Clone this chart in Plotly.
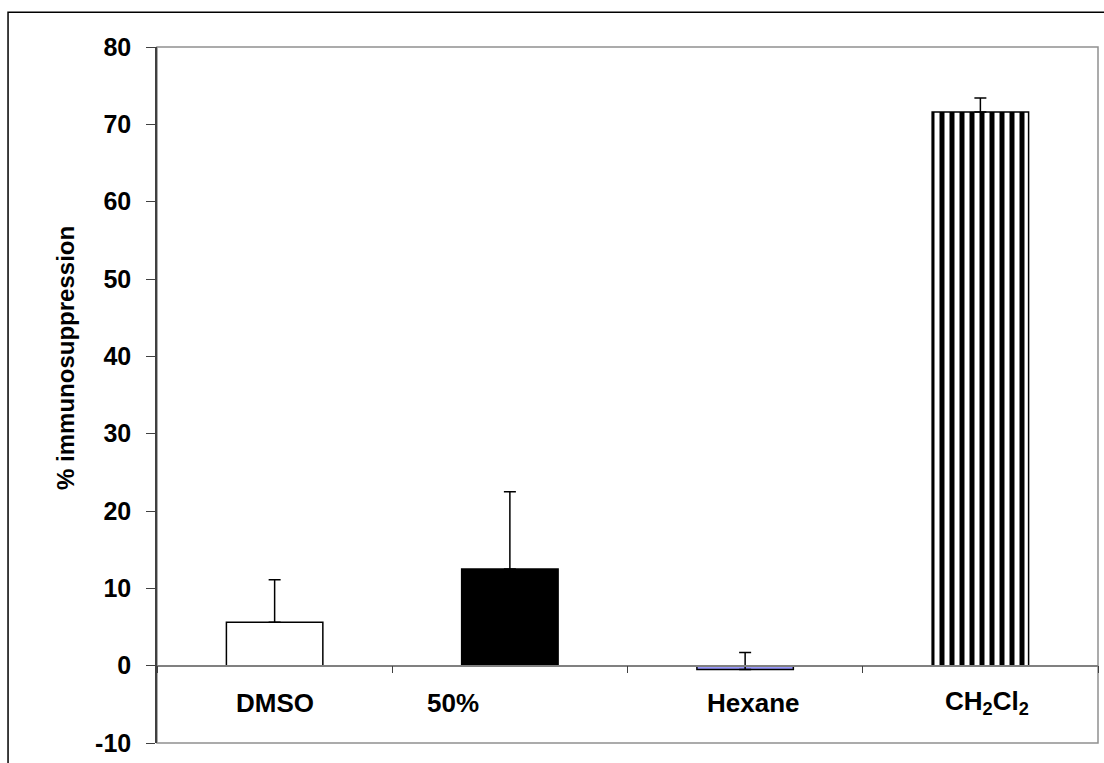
import plotly.graph_objects as go

# Extract treatments and their mean % immunosuppression with +SD
categories = ["DMSO", "50%", "Hexane", "CH2Cl2"]
tick_labels = ["DMSO", "50%", "Hexane", "CH<sub>2</sub>Cl<sub>2</sub>"]
means = [5.6, 12.5, -0.5, 71.6]
errors_plus = [5.5, 10.0, 2.2, 1.8]
label_shift = [0, -57, 8, 7]

y_tickvals = [-10, 0, 10, 20, 30, 40, 50, 60, 70, 80]
y_ticktext = ["-10", "0", "10", "20", "30", "40", "50", "60", "70", "80"]

fills = ["white", "black", "#9999FF", "white"]
striped = [False, False, False, True]

FONT = "Liberation Sans, Arial, sans-serif"

fig = go.Figure()
for cat, m, e, fc, s in zip(categories, means, errors_plus, fills, striped):
    marker = dict(color=fc, line=dict(color="black", width=1.5))
    if s:
        marker["pattern"] = dict(shape="|", fgcolor="black", bgcolor="white",
                                 fgopacity=1, size=10, solidity=0.5)
    fig.add_trace(go.Bar(
        x=[cat],
        y=[m],
        marker=marker,
        error_y=dict(type="data", symmetric=False, array=[e],
                     arrayminus=[0], color="black", thickness=1.5, width=6),
        showlegend=False,
    ))

y_range = [-10, 80]

fig.update_layout(
    width=1104,
    height=763,
    margin=dict(l=157, r=6, t=47, b=17),
    paper_bgcolor="white",
    plot_bgcolor="white",
    barmode="overlay",
    bargap=0.59,
    font=dict(family=FONT, color="black"),
    xaxis=dict(
        type="category",
        categoryorder="array",
        categoryarray=categories,
        range=[-0.5, 3.5],
        tickson="boundaries",
        ticks="outside",
        ticklen=7,
        tickcolor="#404040",
        showticklabels=False,
        showline=True,
        linecolor="#808080",
        linewidth=1.5,
        showgrid=False,
        zeroline=False,
        anchor="free",
        position=(0 - y_range[0]) / (y_range[1] - y_range[0]),
    ),
    yaxis=dict(
        range=y_range,
        tickvals=y_tickvals,
        ticktext=y_ticktext,
        ticks="outside",
        ticklen=9,
        tickcolor="#404040",
        tickfont=dict(family=FONT, size=25, weight="bold"),
        ticklabelstandoff=10,
        showline=True,
        linecolor="#404040",
        linewidth=1.5,
        showgrid=False,
        zeroline=False,
    ),
    shapes=[
        # plot-area frame
        dict(type="rect", xref="paper", yref="paper", x0=0, x1=1, y0=0, y1=1,
             line=dict(color="#909090", width=1.5), layer="below"),
        # outer chart frame
        dict(type="rect", xref="paper", yref="paper",
             x0=-0.1583, x1=1.1, y0=-0.2, y1=1.0501,
             line=dict(color="black", width=1.5), layer="below"),
    ],
)

annotations = []
for cat, text, dx in zip(categories, tick_labels, label_shift):
    annotations.append(dict(
        x=cat, y=-4.8, xref="x", yref="y", text=text, showarrow=False,
        xshift=dx, font=dict(family=FONT, size=26, weight="bold"),
    ))
annotations.append(dict(
    x=-0.098, y=0.553, xref="paper", yref="paper", text="% immunosuppression",
    showarrow=False, textangle=-90, xanchor="center", yanchor="middle",
    font=dict(family=FONT, size=24, weight="bold"),
))
fig.update_layout(annotations=annotations)

fig.write_html("out.html")
